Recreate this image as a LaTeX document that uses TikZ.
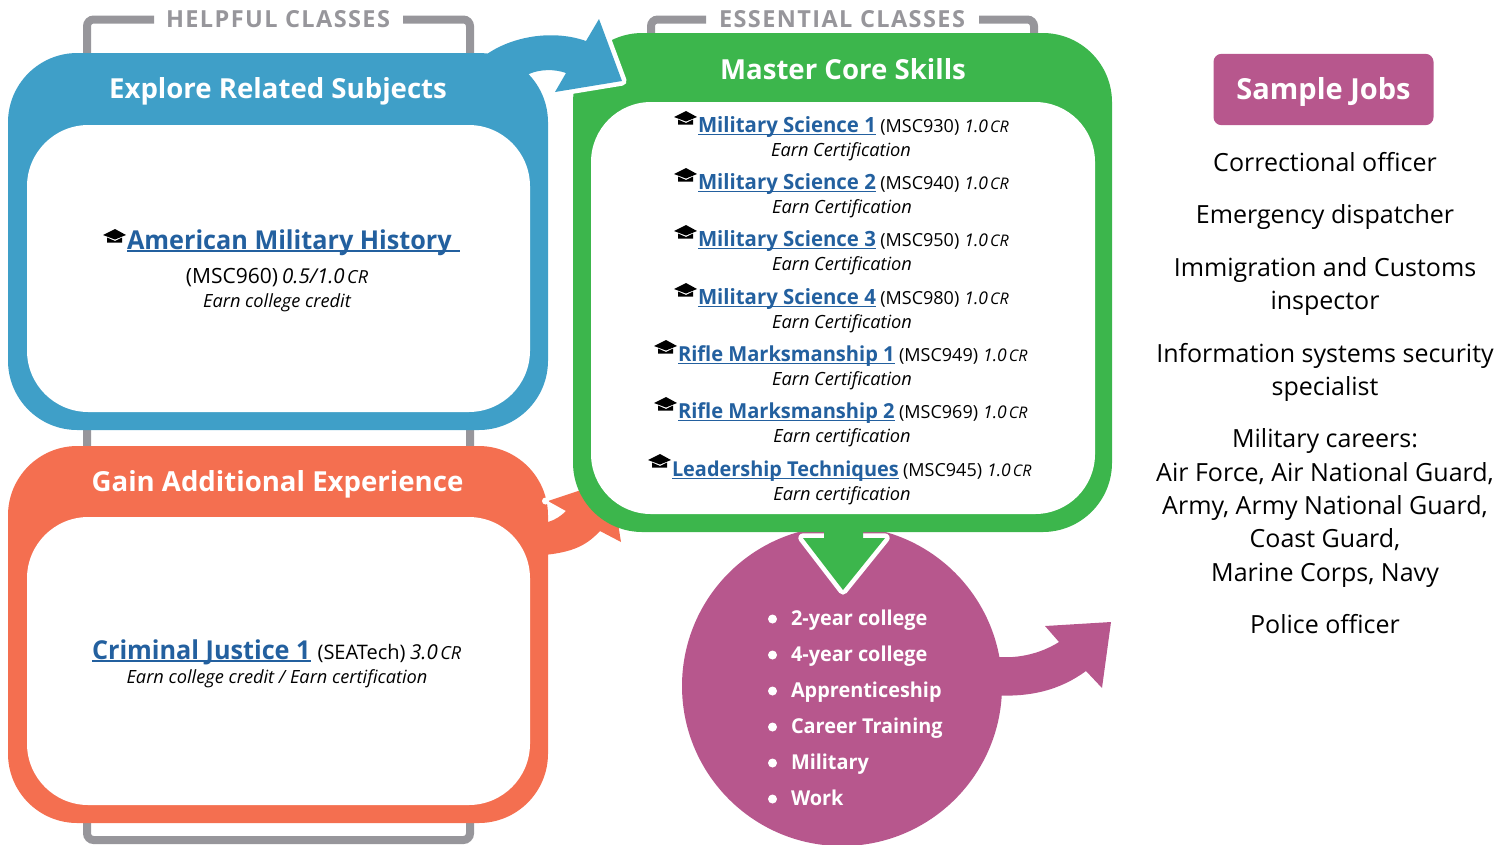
\documentclass[tikz,border=0pt]{standalone}
\usepackage{fontspec}
\setmainfont{Open Sans}
\newfontfamily\hdrfont[LetterSpace=6]{Open Sans}
\newfontfamily\lnkfont[FakeStretch=0.97]{Open Sans}
\definecolor{cblue}{HTML}{3F9FC8}
\definecolor{corange}{HTML}{F46F50}
\definecolor{cgreen}{HTML}{3CB64C}
\definecolor{cmag}{HTML}{B7578D}
\definecolor{cgray}{HTML}{97969B}
\definecolor{clink}{HTML}{23609F}
\newlength{\pxu}\setlength{\pxu}{0.75pt}
\newcommand{\fs}[1]{\fontsize{#1\pxu}{#1\pxu}\selectfont}
\newcommand{\lnk}[2]{{\fs{#1}\lnkfont\bfseries\color{clink}\setbox0\hbox{#2}\rlap{\rule[-0.13em]{\wd0}{0.075em}}\box0}}
\newcommand{\cred}[3]{{\fs{#1}\itshape #2\kern 0.12em{\fs{#3}CR}}}
\newcommand{\coderow}[2]{{\fs{18}#1}\hspace{0.38em}\cred{17.5}{#2}{16}}
\tikzset{
  x=0.75pt,y=-0.75pt,
  txt/.style={inner sep=0pt,outer sep=0pt,anchor=base},
  rowtxt/.style={inner sep=0pt,outer sep=0pt,anchor=base west},
  title/.style={txt,text=white,font=\fs{27.6}\bfseries},
  hdr/.style={txt,text=cgray,font=\fs{23.5}\hdrfont\bfseries},
  earn/.style={txt,font=\fs{18.2}\itshape},
  job/.style={txt,font=\fs{25}},
  item/.style={inner sep=0pt,outer sep=0pt,anchor=base west,text=white,font=\fs{20.5}\lnkfont\bfseries},
  brk/.style={draw=cgray,line width=6pt,rounded corners=5pt},
  capicon/.pic={
    \fill[black] (-12,0) -- (0,-6) -- (11,0) -- (0,4.5) -- cycle;
    \fill[black] (-8,2.5) -- (0,6) -- (7,2.5) -- (7,7.5) -- (-8,7.5) -- cycle;
  }
}
\begin{document}
\begin{tikzpicture}
\useasboundingbox (0,0) rectangle (1512,844);
% brackets
\draw[brk] (154,19.5) -- (87,19.5) -- (87,840) -- (470,840) -- (470,19.5) -- (403,19.5);
\draw[brk] (706,19.5) -- (651,19.5) -- (651,50);
\draw[brk] (979,19.5) -- (1034,19.5) -- (1034,50);
% magenta circle and arrow
\fill[cmag] (842,686) circle[radius=160];
\fill[cmag] (990,656) .. controls (1015,660) and (1040,654) .. (1059,642) -- (1045,626) -- (1111,622) -- (1102,688) -- (1086,671) .. controls (1060,690) and (1030,698) .. (990,695) -- cycle;
% orange arrow
\fill[corange] (530,522) -- (548,522) .. controls (555,520) and (561,516) .. (566,511) -- (548,501) -- (611,480) -- (621,542) -- (600,531) .. controls (585,547) and (570,554) .. (530,556) -- cycle;
% green box
\fill[cgreen,rounded corners=52pt] (573,33) rectangle (1112,532);
\fill[white,rounded corners=45pt] (591,102) rectangle (1095,514);
% green arrow
\draw[white,fill=white,line width=7pt,line join=round] (803,538) -- (843,590) -- (885,538) -- cycle;
\fill[cgreen] (824,528) -- (863,528) -- (863,538) -- (885,538) -- (843,590) -- (803,538) -- (824,538) -- cycle;
% blue halo
\draw[white,fill=white,line width=7pt,line join=round] (599,19) -- (622,81) -- (555,92) -- cycle;
% blue box
\fill[cblue,rounded corners=52pt] (8,53) rectangle (548,430);
\fill[white,rounded corners=46pt] (27,125) rectangle (530,412);
\fill[cblue] (487,54) .. controls (515,35) and (555,30) .. (586,41) -- (599,19) -- (622,81) -- (555,92) -- (566,73) .. controls (555,69) and (540,69) .. (529,74) -- (510,90) -- cycle;
% orange box
\fill[corange,rounded corners=52pt] (8,446) rectangle (548,823);
\fill[white,rounded corners=46pt] (27,517) rectangle (530,805);
\fill[white] (545.5,501) circle[radius=3.5];
% jobs box
\node[fill=cmag,rounded corners=6pt,minimum width=165pt,minimum height=53.5pt,inner sep=0pt,outer sep=0pt] (jobsbox) at (1323.5,89.5) {};
% titles
\node[hdr] (helpful) at (278,27) {HELPFUL CLASSES};
\node[hdr] (essential) at (842,27) {ESSENTIAL CLASSES};
\node[title] (explore) at (278,98) {Explore Related Subjects};
\node[title] (gain) at (277.5,491) {Gain Additional Experience};
\node[title] (master) at (843,79) {Master Core Skills};
\node[title,font=\fs{29}\bfseries] (sample) at (1323.5,99) {Sample Jobs};
% blue content
\pic at (115,235) {capicon};
\node[rowtxt] (amh) at (127,249) {\lnk{26}{American Military History\hspace{0.3em}}};
\node[txt] (amhc) at (277,283) {{\fs{21}(MSC960)}\hspace{0.3em}\cred{20.5}{0.5/1.0}{18}};
\node[earn] (amhe) at (277,307) {Earn college credit};
% orange content
\node[rowtxt] (cj) at (92,659) {\lnk{26}{Criminal Justice 1}\hspace{0.52em}{\fs{20}(SEATech)}\hspace{0.35em}\cred{20.5}{3.0}{18}};
\node[earn] (cje) at (277,683) {Earn college credit / Earn certification};
% green content
\pic at (686,117) {capicon};
\node[rowtxt] (r1) at (698,132.5) {\lnk{21}{Military Science 1}\hspace{0.33em}\coderow{(MSC930)}{1.0}};
\node[earn] (e1) at (841,156) {Earn Certification};
\pic at (686,174) {capicon};
\node[rowtxt] (r2) at (698,189.5) {\lnk{21}{Military Science 2}\hspace{0.33em}\coderow{(MSC940)}{1.0}};
\node[earn] (e2) at (842,213) {Earn Certification};
\pic at (686,231) {capicon};
\node[rowtxt] (r3) at (698,246.5) {\lnk{21}{Military Science 3}\hspace{0.33em}\coderow{(MSC950)}{1.0}};
\node[earn] (e3) at (842,270) {Earn Certification};
\pic at (686,289) {capicon};
\node[rowtxt] (r4) at (698,304.5) {\lnk{21}{Military Science 4}\hspace{0.33em}\coderow{(MSC980)}{1.0}};
\node[earn] (e4) at (842,328) {Earn Certification};
\pic at (666,346) {capicon};
\node[rowtxt] (r5) at (678,361.5) {\lnk{20.7}{Rifle Marksmanship 1}\hspace{0.33em}\coderow{(MSC949)}{1.0}};
\node[earn] (e5) at (842,385) {Earn Certification};
\pic at (666,403) {capicon};
\node[rowtxt] (r6) at (678,418.5) {\lnk{20.7}{Rifle Marksmanship 2}\hspace{0.33em}\coderow{(MSC969)}{1.0}};
\node[earn] (e6) at (842,442) {Earn certification};
\pic at (660,460) {capicon};
\node[rowtxt] (r7) at (672,476.5) {\lnk{20.5}{Leadership Techniques}\hspace{0.33em}\coderow{(MSC945)}{1.0}};
\node[earn] (e7) at (842,500) {Earn certification};
% bullet list
\foreach \yy/\tt [count=\i] in {625/2-year college,661/4-year college,697/Apprenticeship,733/Career Training,769/Military,805/Work}{
  \fill[white] (772.5,\yy-6) circle[radius=4.5];
  \node[item] (it\i) at (791,\yy) {\tt};
}
% jobs
\node[job] (j1) at (1325,171) {Correctional officer};
\node[job] (j2) at (1325,223) {Emergency dispatcher};
\node[job] (j3) at (1325,276) {Immigration and Customs};
\node[job] (j3b) at (1325,309) {inspector};
\node[job] (j4) at (1325,362) {Information systems security};
\node[job] (j4b) at (1325,395) {specialist};
\node[job] (j5) at (1325,447) {Military careers:};
\node[job] (j5b) at (1325,481) {Air Force, Air National Guard,};
\node[job] (j5c) at (1325,514) {Army, Army National Guard,};
\node[job] (j5d) at (1325,547) {Coast Guard,};
\node[job] (j5e) at (1325,581) {Marine Corps, Navy};
\node[job] (j6) at (1325,633) {Police officer};
\end{tikzpicture}
\end{document}
